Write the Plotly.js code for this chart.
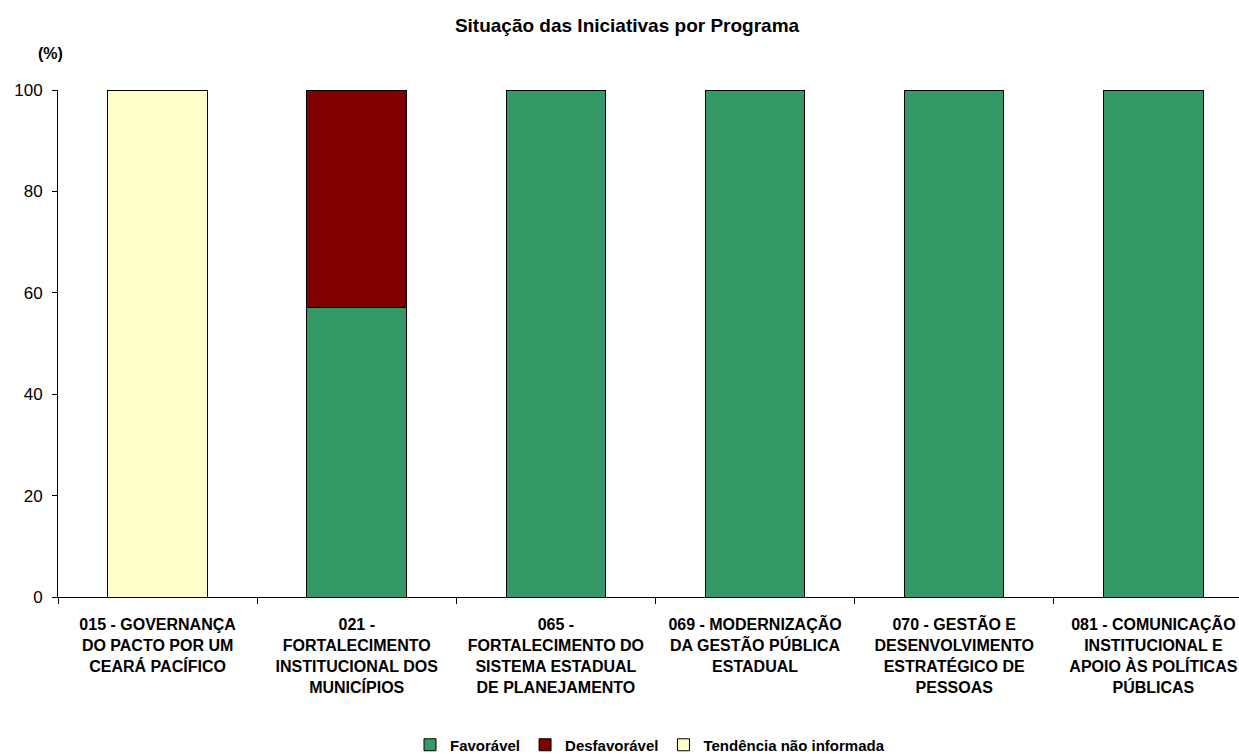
<!DOCTYPE html>
<html>
<head>
<meta charset="utf-8">
<script src="https://cdn.plot.ly/plotly-3.0.1.min.js"></script>
<style>html,body{margin:0;padding:0;overflow:hidden;background:#fff}</style>
</head>
<body>
<div id="chart" style="width:1239px;height:754px"></div>
<script>
const categories = [
  "015 - GOVERNANÇA<br>DO PACTO POR UM<br>CEARÁ PACÍFICO",
  "021 -<br>FORTALECIMENTO<br>INSTITUCIONAL DOS<br>MUNICÍPIOS",
  "065 -<br>FORTALECIMENTO DO<br>SISTEMA ESTADUAL<br>DE PLANEJAMENTO",
  "069 - MODERNIZAÇÃO<br>DA GESTÃO PÚBLICA<br>ESTADUAL",
  "070 - GESTÃO E<br>DESENVOLVIMENTO<br>ESTRATÉGICO DE<br>PESSOAS",
  "081 - COMUNICAÇÃO<br>INSTITUCIONAL E<br>APOIO ÀS POLÍTICAS<br>PÚBLICAS"
];
const favoravel = [null, 57.14, 100, 100, 100, 100];
const desfavoravel = [null, 42.86, null, null, null, null];
const tendencia = [100, null, null, null, null, null];
const seriesNames = ["Favorável", "Desfavorável", "Tendência não informada"];
const yTicks = [0, 20, 40, 60, 80, 100];

const FONT = "Liberation Sans, Arial, sans-serif";
const line = {color: "#000", width: 1};
const traces = [
  {type: "bar", name: seriesNames[0], x: categories, y: favoravel, width: 0.5,
   marker: {color: "#339966", line: line}},
  {type: "bar", name: seriesNames[1], x: categories, y: desfavoravel, width: 0.5,
   marker: {color: "#800000", line: line}},
  {type: "bar", name: seriesNames[2], x: categories, y: tendencia, width: 0.5,
   marker: {color: "#FFFFCC", line: line}}
];

const layout = {
  width: 1239, height: 754,
  barmode: "stack",
  paper_bgcolor: "#fff", plot_bgcolor: "#fff",
  margin: {l: 58, r: 0, t: 90, b: 157, pad: 0},
  font: {family: FONT, color: "#000"},
  title: {text: "<b>Situação das Iniciativas por Programa</b>", font: {family: FONT, size: 19, color: "#000"},
          x: 627/1239, xref: "container", xanchor: "center", y: 1 - 25/754, yref: "container", yanchor: "middle"},
  xaxis: {type: "category", range: [-0.5, 5.43], showline: true, linecolor: "#000", linewidth: 1,
          ticks: "outside", ticklen: 6, tickcolor: "#000", tickson: "boundaries",
          showgrid: false, zeroline: false, tickangle: 0, ticklabelstandoff: 13,
          tickfont: {family: FONT, size: 16, color: "#000", weight: "bold"}},
  yaxis: {range: [0, 100], tickvals: yTicks, showline: true, linecolor: "#000", linewidth: 1,
          ticks: "outside", ticklen: 5, tickcolor: "#000", showgrid: false, zeroline: false,
          ticklabelstandoff: 6,
          tickfont: {family: FONT, size: 17, color: "#000"}},
  showlegend: true,
  legend: {orientation: "h", xref: "container", yref: "container", x: 650/1239, xanchor: "center",
           y: 1 - 745/754, yanchor: "middle", traceorder: "normal",
           font: {family: FONT, size: 15, color: "#000", weight: "bold"},
           itemwidth: 30, tracegroupgap: 0},
  annotations: [{text: "<b>(%)</b>", xref: "paper", yref: "paper",
    x: (50 - 58) / (1239 - 58), y: (597 - 53) / (597 - 90), xanchor: "center", yanchor: "middle",
    showarrow: false, font: {family: FONT, size: 16, color: "#000"}}],
  hovermode: false
};

Plotly.newPlot("chart", traces, layout, {displayModeBar: false, staticPlot: true});
</script>
</body>
</html>
